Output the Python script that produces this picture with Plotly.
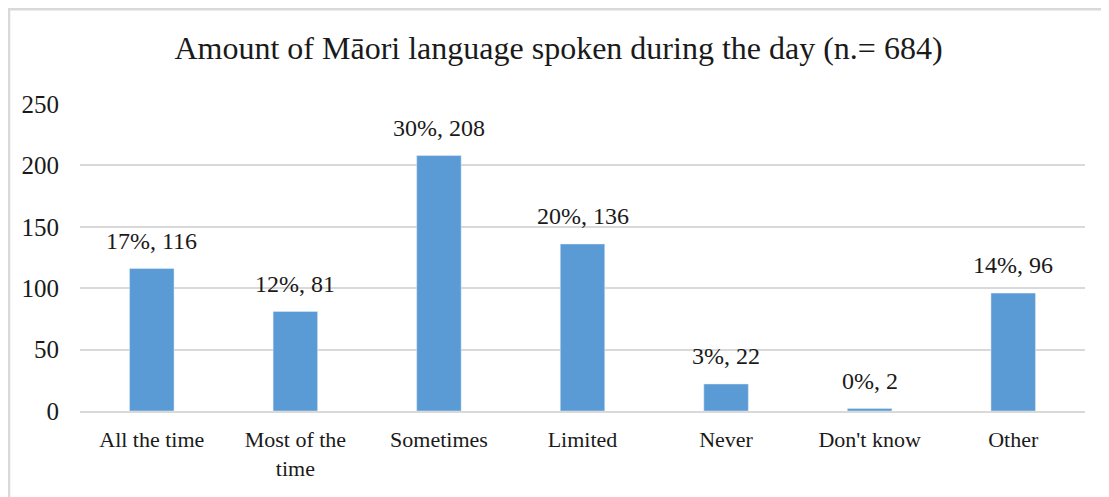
import plotly.graph_objects as go

categories = ["All the time", "Most of the<br>time", "Sometimes", "Limited", "Never", "Don't know", "Other"]
counts = [116, 81, 208, 136, 22, 2, 96]
percents = ["17%", "12%", "30%", "20%", "3%", "0%", "14%"]

serif = "Liberation Serif, Times New Roman, serif"
ink = "#1a1a1a"

fig = go.Figure()
fig.add_trace(go.Bar(
    x=categories,
    y=counts,
    marker=dict(color="#5B9BD5"),
    hoverinfo="skip",
))

for cat, n, p in zip(categories, counts, percents):
    fig.add_annotation(
        x=cat, y=n, text=f"{p}, {n}",
        showarrow=False, yanchor="bottom", yshift=13,
        font=dict(family=serif, size=24, color=ink),
    )

# light frame round the chart (right/bottom edges fall outside the view)
fig.add_shape(type="rect", xref="paper", yref="paper",
              x0=-0.0706, x1=1.2, y0=-0.5, y1=1.309,
              line=dict(color="#d9d9d9", width=2.5), layer="below")

fig.update_layout(
    width=1101, height=489,
    margin=dict(l=72, r=24, t=96, b=86),
    paper_bgcolor="white", plot_bgcolor="white",
    bargap=0.69,
    showlegend=False,
    title=dict(
        text="Amount of Māori language spoken during the day (n.= 684)",
        x=0.5, xref="container", xanchor="center",
        y=0.918, yanchor="middle",
        font=dict(family=serif, size=32, color=ink),
    ),
    font=dict(family=serif, size=22, color=ink),
)
fig.update_yaxes(
    range=[0, 250], dtick=50,
    showgrid=True, gridcolor="#d9d9d9", gridwidth=1.5,
    zeroline=False, showline=False,
    ticklabelstandoff=20,
    tickfont=dict(family=serif, size=25, color=ink),
)
fig.update_xaxes(
    showline=True, linecolor="#d9d9d9", linewidth=1.5,
    ticks="", ticklabelstandoff=8,
    tickfont=dict(family=serif, size=22, color=ink),
)

fig.write_html("out.html")
